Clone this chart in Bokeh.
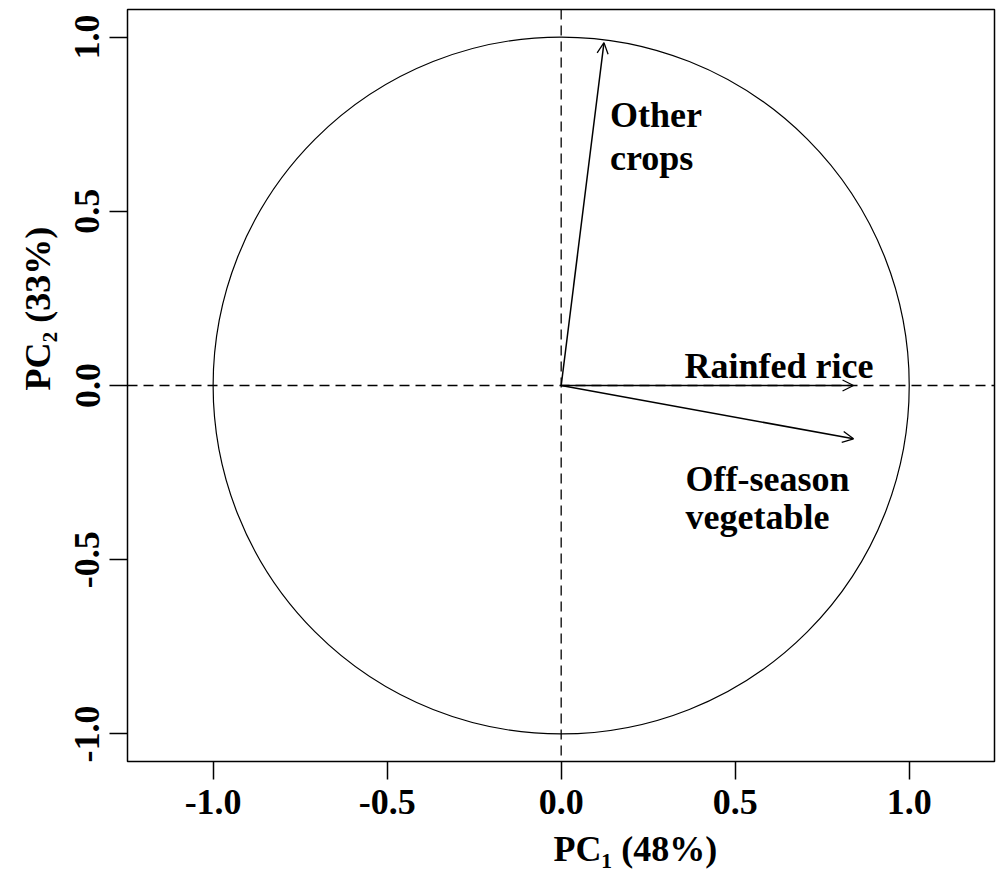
import numpy as np
from bokeh.plotting import figure
from bokeh.models import (Range1d, Span, Arrow, OpenHead, ColumnDataSource,
                          FixedTicker, Title)
from bokeh.core.properties import value
from bokeh.embed import file_html
from bokeh.resources import INLINE

# ---- data ----
variables = ["Rainfed rice", "Off-season vegetable", "Other crops"]
pc1_loading = [0.84, 0.84, 0.123]
pc2_loading = [0.0, -0.153, 0.984]
label_lines = [["Rainfed rice"], ["Off-season", "vegetable"], ["Other", "crops"]]
tick_values = [-1.0, -0.5, 0.0, 0.5, 1.0]
tick_labels = ["-1.0", "-0.5", "0.0", "0.5", "1.0"]
x_title = "PC\u2081 (48%)"
y_title = "PC\u2082 (33%)"

# ---- layout (pixel offsets of the text lines from each arrow tip) ----
line_offsets = [[(-169, -20)], [(-168, 40), (-168, 78)], [(6, 72), (6, 115)]]

FONT = "Liberation Serif"

p = figure(width=1000, height=880,
           x_range=Range1d(-1.246, 1.245), y_range=Range1d(-1.079, 1.079),
           output_backend="svg", toolbar_location=None,
           min_border_left=127, min_border_right=6,
           min_border_top=9, min_border_bottom=119)
p.grid.visible = False
p.background_fill_color = "white"
p.border_fill_color = "white"
p.outline_line_color = "black"
p.outline_line_width = 1.5

for ax in (p.xaxis[0], p.yaxis[0]):
    ax.ticker = FixedTicker(ticks=tick_values)
    ax.major_label_overrides = {v: t for v, t in zip(tick_values, tick_labels)}
    ax.axis_line_color = None
    ax.major_tick_out = 18
    ax.major_tick_in = 0
    ax.major_tick_line_width = 1.5
    ax.major_tick_line_color = "black"
    ax.minor_tick_line_color = None
    ax.major_label_text_font = FONT
    ax.major_label_text_font_style = "bold"
    ax.major_label_text_font_size = "36px"
    ax.major_label_text_color = "black"
    ax.major_label_standoff = 10
p.yaxis[0].major_label_orientation = "vertical"

# axis titles (offset from the frame's start, as in the reference)
p.add_layout(Title(text=x_title, align="left", offset=426, standoff=20,
                   text_font=FONT, text_font_style="bold",
                   text_font_size="36px", text_color="black"), "below")
p.add_layout(Title(text=y_title, align="left", offset=371, standoff=30,
                   text_font=FONT, text_font_style="bold",
                   text_font_size="36px", text_color="black"), "left")

# unit circle
p.ellipse(x=[0], y=[0], width=2, height=2, fill_color=None,
          line_color="black", line_width=1.2)

# dashed reference lines
p.add_layout(Span(location=0, dimension="width", line_color="black",
                  line_width=1.3, line_dash="10 6"))
p.add_layout(Span(location=0, dimension="height", line_color="black",
                  line_width=1.3, line_dash="10 6"))

# arrows
asrc = ColumnDataSource(dict(x0=[0.0] * len(variables), y0=[0.0] * len(variables),
                             x1=pc1_loading, y1=pc2_loading))
p.add_layout(Arrow(end=OpenHead(size=11, line_width=1.3, line_color="black"),
                   x_start="x0", y_start="y0", x_end="x1", y_end="y1",
                   source=asrc, line_color="black", line_width=1.5))

# labels
tx, ty, tt, xo, yo = [], [], [], [], []
for i, lines in enumerate(label_lines):
    for line, (ox, oy) in zip(lines, line_offsets[i]):
        tx.append(pc1_loading[i]); ty.append(pc2_loading[i]); tt.append(line)
        xo.append(ox); yo.append(oy)
tsrc = ColumnDataSource(dict(x=tx, y=ty, text=tt, xo=xo, yo=yo))
p.text(x="x", y="y", text="text", x_offset="xo", y_offset="yo", source=tsrc,
       text_font=value(FONT), text_font_style="bold", text_font_size="36px",
       text_color="black", text_align="left", text_baseline="alphabetic")

open("out.html", "w").write(file_html(p, INLINE))
